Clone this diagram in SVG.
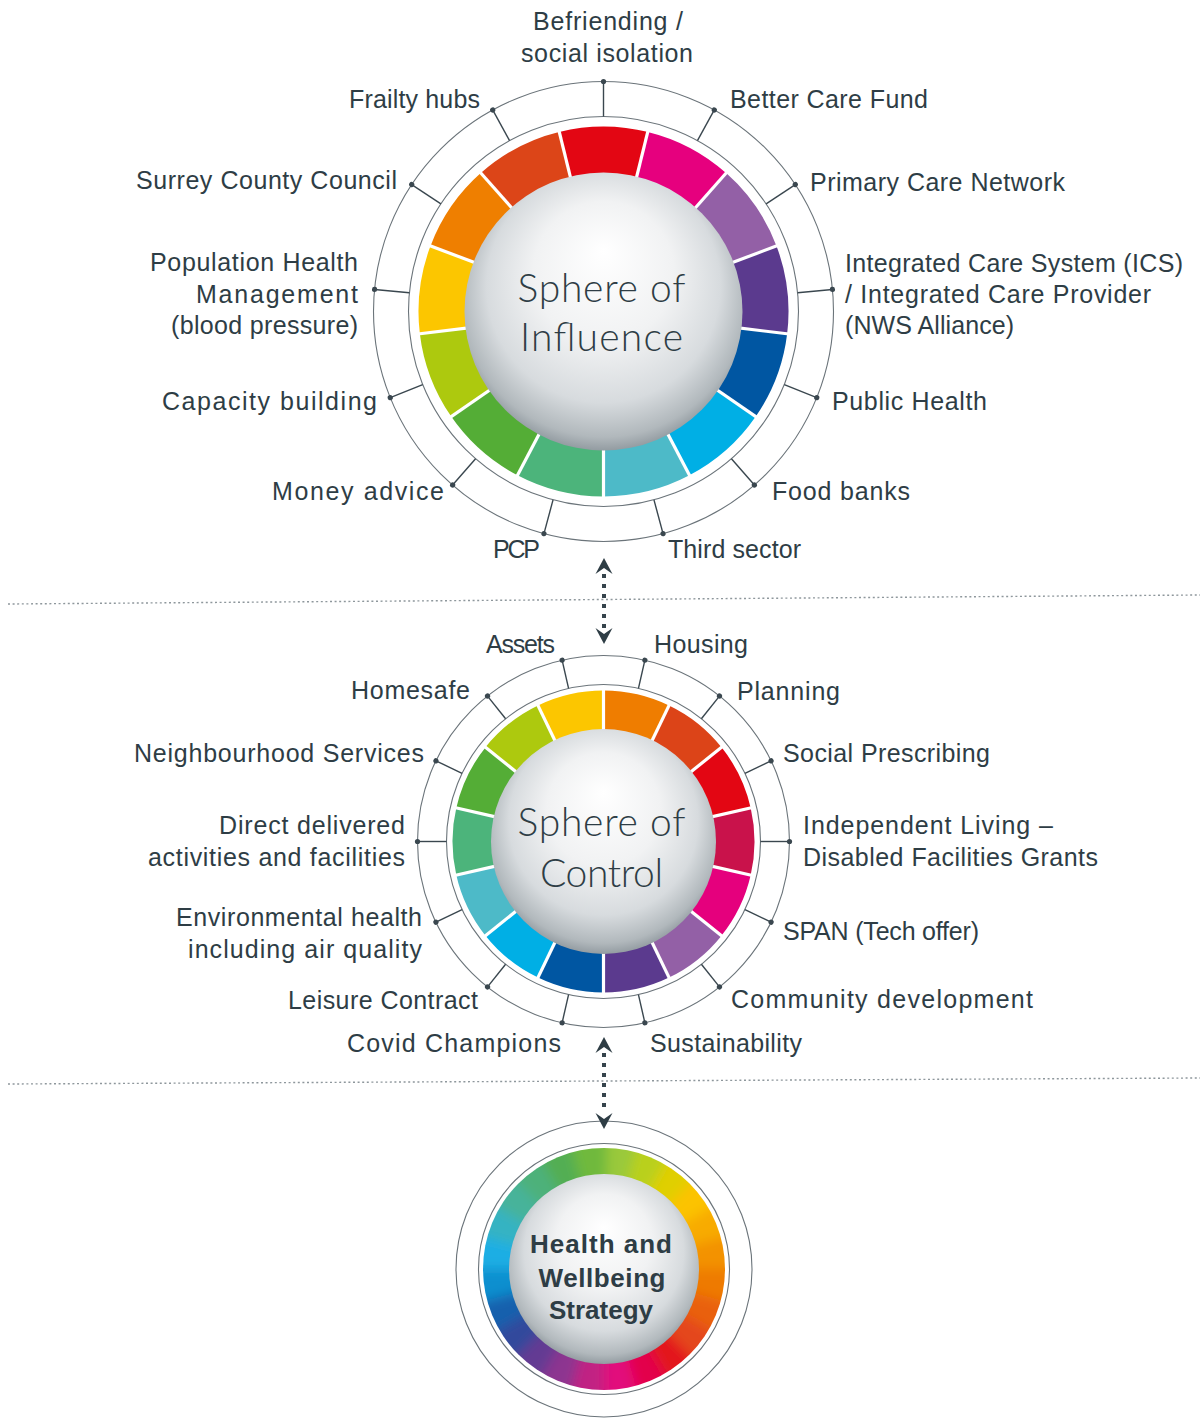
<svg xmlns="http://www.w3.org/2000/svg" xmlns:xlink="http://www.w3.org/1999/xlink" width="1200" height="1418" viewBox="0 0 1200 1418">
<style>
.lbl{font-family:"Liberation Sans",Arial,sans-serif;font-size:25px;fill:#2e3d45}
.end{text-anchor:end}
.mid{text-anchor:middle}
.big{font-family:"Lato","Open Sans","Liberation Sans",sans-serif;font-weight:300;font-size:39px;fill:#2e3d45;text-anchor:middle}
.hw{font-family:"Liberation Sans",Arial,sans-serif;font-weight:bold;font-size:26px;fill:#2e3d45;text-anchor:middle}
.thin{fill:none;stroke:#6b747a;stroke-width:1.1}
.tick line{stroke:#3a474f;stroke-width:1.4}
.tick circle{fill:#3a474f}
.div{stroke:#ffffff;stroke-width:3.2}
.hline{stroke:#8e979c;stroke-width:1.4;stroke-dasharray:2 2.6;fill:none}
.conn{stroke:#36444c;stroke-width:4;stroke-dasharray:4 6;fill:none}
</style>
<defs>
<radialGradient id="sphere" cx="0.5" cy="0.45" r="0.56" fx="0.5" fy="0.28">
<stop offset="0" stop-color="#ffffff"/>
<stop offset="0.45" stop-color="#f1f2f3"/>
<stop offset="0.75" stop-color="#d7dbde"/>
<stop offset="0.92" stop-color="#b1b8bc"/>
<stop offset="1" stop-color="#8d969c"/>
</radialGradient>
<g id="tI" class="tick"><line x1="0" y1="-195" x2="0" y2="-230"/><circle cx="0" cy="-230" r="2.6"/></g>
<g id="tC" class="tick"><line x1="0" y1="-157" x2="0" y2="-186"/><circle cx="0" cy="-186" r="2.6"/></g>
<line id="dI" class="div" x1="0" y1="-128" x2="0" y2="-189"/>
<line id="dC" class="div" x1="0" y1="-104" x2="0" y2="-155"/>
<marker id="ah" viewBox="-16 -9 16 18" refX="-16" refY="0" markerWidth="16" markerHeight="18" markerUnits="userSpaceOnUse" orient="auto-start-reverse">
<path d="M0,0 L-16,-8.5 L-10,0 L-16,8.5 Z" fill="#2e3d45"/>
</marker>
<clipPath id="hwClip"><circle cx="0" cy="0" r="121"/></clipPath>
<filter id="blur" x="-20%" y="-20%" width="140%" height="140%"><feGaussianBlur stdDeviation="6"/></filter>
</defs>

<!-- dotted separators -->
<line class="hline" x1="8" y1="604" x2="1200" y2="595"/>
<line class="hline" x1="8" y1="1084" x2="1200" y2="1078"/>

<!-- Sphere of Influence -->
<g id="sphere-influence" transform="translate(603.5,311.5)">
<circle class="thin" r="230"/>
<circle class="thin" r="195"/>
<g fill="none" stroke-width="51" stroke-dasharray="77.6 924.6">
<circle r="159.5" stroke="#e30613" transform="rotate(-103.846)"/>
<circle r="159.5" stroke="#e6007e" transform="rotate(-76.154)"/>
<circle r="159.5" stroke="#9360a6" transform="rotate(-48.462)"/>
<circle r="159.5" stroke="#5b3a8e" transform="rotate(-20.769)"/>
<circle r="159.5" stroke="#0056a2" transform="rotate(6.923)"/>
<circle r="159.5" stroke="#00afe5" transform="rotate(34.615)"/>
<circle r="159.5" stroke="#4dbac8" transform="rotate(62.308)"/>
<circle r="159.5" stroke="#4cb47b" transform="rotate(90)"/>
<circle r="159.5" stroke="#54ad36" transform="rotate(117.692)"/>
<circle r="159.5" stroke="#adc90e" transform="rotate(145.385)"/>
<circle r="159.5" stroke="#fcc600" transform="rotate(173.077)"/>
<circle r="159.5" stroke="#ef7f00" transform="rotate(200.769)"/>
<circle r="159.5" stroke="#dc4518" transform="rotate(228.462)"/>
</g>
<use href="#dI" transform="rotate(13.846)"/>
<use href="#dI" transform="rotate(41.538)"/>
<use href="#dI" transform="rotate(69.231)"/>
<use href="#dI" transform="rotate(96.923)"/>
<use href="#dI" transform="rotate(124.615)"/>
<use href="#dI" transform="rotate(152.308)"/>
<use href="#dI" transform="rotate(180)"/>
<use href="#dI" transform="rotate(207.692)"/>
<use href="#dI" transform="rotate(235.385)"/>
<use href="#dI" transform="rotate(263.077)"/>
<use href="#dI" transform="rotate(290.769)"/>
<use href="#dI" transform="rotate(318.462)"/>
<use href="#dI" transform="rotate(346.154)"/>
<use href="#tI"/>
<use href="#tI" transform="rotate(28.8)"/>
<use href="#tI" transform="rotate(56.5)"/>
<use href="#tI" transform="rotate(84.5)"/>
<use href="#tI" transform="rotate(112)"/>
<use href="#tI" transform="rotate(139)"/>
<use href="#tI" transform="rotate(165)"/>
<use href="#tI" transform="rotate(-28.8)"/>
<use href="#tI" transform="rotate(-56.5)"/>
<use href="#tI" transform="rotate(-84.5)"/>
<use href="#tI" transform="rotate(-112)"/>
<use href="#tI" transform="rotate(-139)"/>
<use href="#tI" transform="rotate(-165)"/>
<circle r="139" fill="url(#sphere)"/>
<text class="big" x="-2" y="-10" textLength="168">Sphere of</text>
<text class="big" x="-2" y="39" textLength="163">Influence</text>
</g>

<!-- Influence labels -->
<g id="lbl-befriending"><text class="lbl mid" x="608" y="30" textLength="150">Befriending /</text><text class="lbl mid" x="607" y="62" textLength="172">social isolation</text></g>
<g id="lbl-frailty"><text class="lbl end" x="480" y="108" textLength="131">Frailty hubs</text></g>
<g id="lbl-bcf"><text class="lbl" x="730" y="108" textLength="198">Better Care Fund</text></g>
<g id="lbl-surrey"><text class="lbl end" x="397" y="189" textLength="261">Surrey County Council</text></g>
<g id="lbl-pcn"><text class="lbl" x="810" y="191" textLength="255">Primary Care Network</text></g>
<g id="lbl-pophealth"><text class="lbl end" x="358" y="271" textLength="208">Population Health</text><text class="lbl end" x="358" y="303" textLength="162">Management</text><text class="lbl end" x="358" y="334" textLength="187">(blood pressure)</text></g>
<g id="lbl-ics"><text class="lbl" x="845" y="272" textLength="338">Integrated Care System (ICS)</text><text class="lbl" x="845" y="303" textLength="306">/ Integrated Care Provider</text><text class="lbl" x="845" y="334" textLength="169">(NWS Alliance)</text></g>
<g id="lbl-capacity"><text class="lbl end" x="377" y="410" textLength="215">Capacity building</text></g>
<g id="lbl-publichealth"><text class="lbl" x="832" y="410" textLength="155">Public Health</text></g>
<g id="lbl-money"><text class="lbl end" x="444" y="500" textLength="172">Money advice</text></g>
<g id="lbl-food"><text class="lbl" x="772" y="500" textLength="138">Food banks</text></g>
<g id="lbl-pcp"><text class="lbl end" x="540" y="558" textLength="47">PCP</text></g>
<g id="lbl-third"><text class="lbl" x="668" y="558" textLength="133">Third sector</text></g>

<!-- Sphere of Control -->
<g id="sphere-control" transform="translate(603.5,841.5)">
<circle class="thin" r="186"/>
<circle class="thin" r="157"/>
<g fill="none" stroke-width="43" stroke-dasharray="58.6 755.1">
<circle r="129.5" stroke="#ef7d00" transform="rotate(-90)"/>
<circle r="129.5" stroke="#dc4418" transform="rotate(-64.286)"/>
<circle r="129.5" stroke="#e30613" transform="rotate(-38.571)"/>
<circle r="129.5" stroke="#c9124b" transform="rotate(-12.857)"/>
<circle r="129.5" stroke="#e5007d" transform="rotate(12.857)"/>
<circle r="129.5" stroke="#9360a6" transform="rotate(38.571)"/>
<circle r="129.5" stroke="#5b3a8e" transform="rotate(64.286)"/>
<circle r="129.5" stroke="#0056a2" transform="rotate(90)"/>
<circle r="129.5" stroke="#00afe5" transform="rotate(115.714)"/>
<circle r="129.5" stroke="#4dbac8" transform="rotate(141.429)"/>
<circle r="129.5" stroke="#4cb47b" transform="rotate(167.143)"/>
<circle r="129.5" stroke="#54ad36" transform="rotate(192.857)"/>
<circle r="129.5" stroke="#adc90e" transform="rotate(218.571)"/>
<circle r="129.5" stroke="#fcc600" transform="rotate(244.286)"/>
</g>
<use href="#dC"/>
<use href="#dC" transform="rotate(25.714)"/>
<use href="#dC" transform="rotate(51.429)"/>
<use href="#dC" transform="rotate(77.143)"/>
<use href="#dC" transform="rotate(102.857)"/>
<use href="#dC" transform="rotate(128.571)"/>
<use href="#dC" transform="rotate(154.286)"/>
<use href="#dC" transform="rotate(180)"/>
<use href="#dC" transform="rotate(205.714)"/>
<use href="#dC" transform="rotate(231.429)"/>
<use href="#dC" transform="rotate(257.143)"/>
<use href="#dC" transform="rotate(282.857)"/>
<use href="#dC" transform="rotate(308.571)"/>
<use href="#dC" transform="rotate(334.286)"/>
<use href="#tC" transform="rotate(12.857)"/>
<use href="#tC" transform="rotate(38.571)"/>
<use href="#tC" transform="rotate(64.286)"/>
<use href="#tC" transform="rotate(90)"/>
<use href="#tC" transform="rotate(115.714)"/>
<use href="#tC" transform="rotate(141.429)"/>
<use href="#tC" transform="rotate(167.143)"/>
<use href="#tC" transform="rotate(-12.857)"/>
<use href="#tC" transform="rotate(-38.571)"/>
<use href="#tC" transform="rotate(-64.286)"/>
<use href="#tC" transform="rotate(-90)"/>
<use href="#tC" transform="rotate(-115.714)"/>
<use href="#tC" transform="rotate(-141.429)"/>
<use href="#tC" transform="rotate(-167.143)"/>
<circle r="112.5" fill="url(#sphere)"/>
<text class="big" x="-2" y="-6" textLength="168">Sphere of</text>
<text class="big" x="-2" y="45" textLength="123">Control</text>
</g>

<!-- Control labels -->
<g id="lbl-assets"><text class="lbl end" x="555" y="653" textLength="69">Assets</text></g>
<g id="lbl-housing"><text class="lbl" x="654" y="653" textLength="94">Housing</text></g>
<g id="lbl-homesafe"><text class="lbl end" x="470" y="699" textLength="119">Homesafe</text></g>
<g id="lbl-planning"><text class="lbl" x="737" y="700" textLength="103">Planning</text></g>
<g id="lbl-neighbourhood"><text class="lbl end" x="424" y="762" textLength="290">Neighbourhood Services</text></g>
<g id="lbl-social"><text class="lbl" x="783" y="762" textLength="207">Social Prescribing</text></g>
<g id="lbl-direct"><text class="lbl end" x="405" y="834" textLength="186">Direct delivered</text><text class="lbl end" x="405" y="866" textLength="257">activities and facilities</text></g>
<g id="lbl-independent"><text class="lbl" x="803" y="834" textLength="250">Independent Living –</text><text class="lbl" x="803" y="866" textLength="295">Disabled Facilities Grants</text></g>
<g id="lbl-environmental"><text class="lbl end" x="422" y="926" textLength="246">Environmental health</text><text class="lbl end" x="422" y="958" textLength="234">including air quality</text></g>
<g id="lbl-span"><text class="lbl" x="783" y="940" textLength="196">SPAN (Tech offer)</text></g>
<g id="lbl-leisure"><text class="lbl end" x="478" y="1009" textLength="190">Leisure Contract</text></g>
<g id="lbl-community"><text class="lbl" x="731" y="1008" textLength="302">Community development</text></g>
<g id="lbl-covid"><text class="lbl end" x="561" y="1052" textLength="214">Covid Champions</text></g>
<g id="lbl-sustainability"><text class="lbl" x="650" y="1052" textLength="152">Sustainability</text></g>

<!-- Health and Wellbeing Strategy -->
<g id="sphere-health" transform="translate(604,1269)">
<circle class="thin" r="148"/>
<circle class="thin" r="125.5"/>
<g clip-path="url(#hwClip)">
<g filter="url(#blur)" fill="none" stroke-width="64" stroke-dasharray="31 647.6">
<circle r="108" stroke="#9ac93a" transform="rotate(-90)"/>
<circle r="108" stroke="#b9d01a" transform="rotate(-75)"/>
<circle r="108" stroke="#e0cf00" transform="rotate(-60)"/>
<circle r="108" stroke="#fcc300" transform="rotate(-45)"/>
<circle r="108" stroke="#f8ab00" transform="rotate(-30)"/>
<circle r="108" stroke="#f39200" transform="rotate(-15)"/>
<circle r="108" stroke="#ee7a03" transform="rotate(0)"/>
<circle r="108" stroke="#e9610f" transform="rotate(15)"/>
<circle r="108" stroke="#e4461a" transform="rotate(30)"/>
<circle r="108" stroke="#e3161f" transform="rotate(45)"/>
<circle r="108" stroke="#e3064b" transform="rotate(60)"/>
<circle r="108" stroke="#e20a7c" transform="rotate(75)"/>
<circle r="108" stroke="#c12183" transform="rotate(90)"/>
<circle r="108" stroke="#8d3490" transform="rotate(105)"/>
<circle r="108" stroke="#633b93" transform="rotate(120)"/>
<circle r="108" stroke="#304a9c" transform="rotate(135)"/>
<circle r="108" stroke="#1660ad" transform="rotate(150)"/>
<circle r="108" stroke="#0f8fcf" transform="rotate(165)"/>
<circle r="108" stroke="#1eaee4" transform="rotate(180)"/>
<circle r="108" stroke="#34b3c2" transform="rotate(195)"/>
<circle r="108" stroke="#47b39a" transform="rotate(210)"/>
<circle r="108" stroke="#4db17a" transform="rotate(225)"/>
<circle r="108" stroke="#52ae52" transform="rotate(240)"/>
<circle r="108" stroke="#70b93e" transform="rotate(255)"/>
</g>
</g>
<circle r="95" fill="url(#sphere)"/>
<text class="hw" x="-3" y="-16" textLength="142">Health and</text>
<text class="hw" x="-2" y="18" textLength="127">Wellbeing</text>
<text class="hw" x="-3" y="50" textLength="104">Strategy</text>
</g>

<!-- connectors -->
<g id="connectors">
<line class="conn" x1="604" y1="574" x2="604" y2="628" marker-start="url(#ah)" marker-end="url(#ah)"/>
<line class="conn" x1="604" y1="1053" x2="604" y2="1113" marker-start="url(#ah)" marker-end="url(#ah)"/>
</g>
</svg>
